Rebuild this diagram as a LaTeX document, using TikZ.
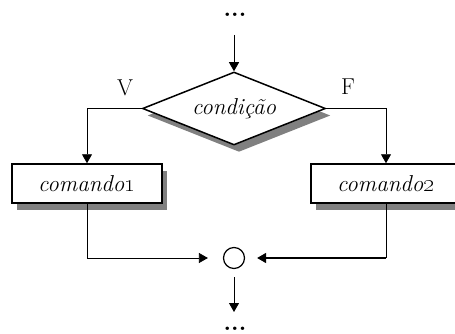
\documentclass[tikz,border=0pt]{standalone}
\usetikzlibrary{shapes.geometric,arrows.meta,shadows}
\begin{document}
\begin{tikzpicture}[x=1pt,y=-1pt,
  every node/.style={font=\fontsize{23}{27}\selectfont},
  shad/.style={drop shadow={shadow xshift=5pt,shadow yshift=-7pt,fill=black!50,opacity=1}},
  cmdbox/.style={draw,line width=1.5pt,fill=white,minimum width=150pt,minimum height=39pt,inner sep=0pt,shad},
  decis/.style={diamond,draw,line width=1.5pt,fill=white,minimum width=183pt,minimum height=73pt,inner sep=0pt,aspect=2.5,shad},
  conn/.style={line width=0.8pt},
  arr/.style={conn,-{Triangle[length=9pt,width=10pt]}},
  dots/.style={font=\fontsize{24}{28}\selectfont\bfseries,inner sep=0pt,text height=4pt,text depth=0pt,anchor=base}
]
\clip (0,0) rectangle (455,334);
\node[dots] (d1) at (235,17) {...};
\coordinate (t1) at (234,35);
\node[decis] (cond) at (234,108.5) {\itshape condição};
\node[cmdbox] (c1) at (87,183.5) {\itshape comando\oldstylenums{1}};
\node[cmdbox] (c2) at (386,183.5) {\itshape comando\oldstylenums{2}};
\node[draw,circle,line width=1.2pt,minimum size=21pt,inner sep=0pt] (m) at (234,258) {};
\coordinate (b1) at (234,312);
\node[dots] (d2) at (235,330) {...};
\node (v) at (125,88) {V};
\node (f) at (348,87) {F};
\coordinate (k2) at (c2.south |- m);
\draw[arr] (t1) -- (cond.north);
\draw[arr] (cond.west) -| (c1.north);
\draw[arr] (cond.east) -| (c2.north);
\draw[arr,shorten >=15pt] (c1.south) |- (m.west);
\draw[conn] (c2.south) -- (k2);
\draw[arr,line width=1.4pt,shorten >=12pt] (k2) -- (m.east);
\draw[arr,shorten <=8pt] (m.south) -- (b1);
\end{tikzpicture}
\end{document}
